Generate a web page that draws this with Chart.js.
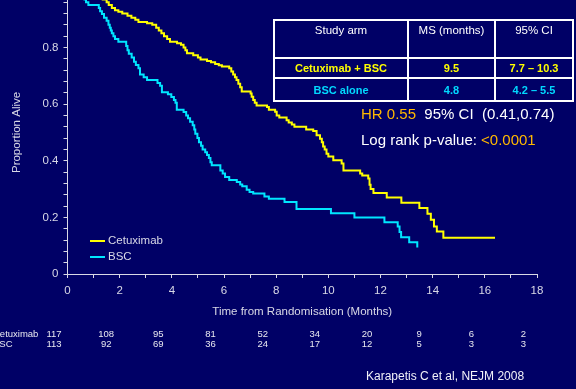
<!DOCTYPE html>
<html>
<head>
<meta charset="utf-8">
<script src="https://cdn.jsdelivr.net/npm/chart.js@4"></script>
<style>
  html, body { margin: 0; padding: 0; width: 576px; height: 389px; overflow: hidden; background: #000066; font-family: Arial, "Liberation Sans", sans-serif; }
  #wrap { position: absolute; left: 0; top: -21px; width: 576px; height: 410px; }
  #arms { position: absolute; left: 273px; top: 19px; width: 299px; border-collapse: collapse; table-layout: fixed; }
  #arms td, #arms th { border: 2px solid #fff; padding: 0; text-align: center; white-space: nowrap; }
  #arms th { height: 33px; vertical-align: top; padding-top: 3px; font-weight: normal; color: #fff; font-size: 11.5px; }
  #arms td { font-weight: bold; font-size: 11px; vertical-align: middle; }
  #arms tr.r1 td { height: 18px; color: #ffff00; }
  #arms tr.r2 td { height: 21px; color: #00d8ff; }
  .stat { position: absolute; left: 361px; font-size: 15px; color: #fff; white-space: pre; line-height: 17px; }
  .gold { color: #ffb800; }
  #cite { position: absolute; left: 366px; top: 369px; font-size: 12px; color: #f0f0f8; white-space: nowrap; }
</style>
</head>
<body>
<div id="wrap"><canvas id="km"></canvas></div>
<table id="arms"></table>
<div class="stat" style="top:105px"><span class="gold">HR 0.55</span>  95% CI  (0.41,0.74)</div>
<div class="stat" style="top:131px">Log rank p-value: <span class="gold">&lt;0.0001</span></div>
<div id="cite">Karapetis C et al, NEJM 2008</div>
<script>
// Kaplan-Meier curves: time (months) of each drop, survival after the drop
var cetuxTime = [0, 0.35, 0.7, 1.05, 1.35, 1.50, 1.58, 1.70, 1.82, 1.95, 2.10, 2.30, 2.45, 2.60, 2.72, 3.05, 3.25, 3.40, 3.50, 3.60, 3.70, 3.82, 3.93, 4.20, 4.35, 4.45, 4.52, 4.58, 4.82, 5.00, 5.10, 5.35, 5.50, 5.66, 5.80, 5.92, 6.20, 6.28, 6.35, 6.42, 6.48, 6.55, 6.62, 6.68, 7.02, 7.06, 7.12, 7.18, 7.25, 7.65, 7.72, 7.96, 8.02, 8.12, 8.40, 8.48, 8.60, 8.70, 9.15, 9.42, 9.55, 9.68, 9.75, 9.80, 9.86, 9.93, 10.0, 10.19, 10.51, 10.58, 11.22, 11.30, 11.53, 11.58, 11.62, 11.73, 12.24, 12.80, 13.49, 13.80, 13.93, 14.05, 14.16, 14.41, 16.39];
var cetuxSurv = [1.0, 0.991, 0.983, 0.976, 0.97, 0.96, 0.95, 0.94, 0.932, 0.926, 0.92, 0.912, 0.905, 0.898, 0.89, 0.886, 0.88, 0.87, 0.86, 0.85, 0.84, 0.83, 0.82, 0.815, 0.81, 0.80, 0.79, 0.78, 0.773, 0.765, 0.758, 0.752, 0.748, 0.742, 0.737, 0.733, 0.727, 0.715, 0.705, 0.695, 0.685, 0.672, 0.66, 0.645, 0.638, 0.626, 0.615, 0.605, 0.595, 0.59, 0.58, 0.573, 0.56, 0.553, 0.543, 0.535, 0.528, 0.52, 0.51, 0.505, 0.49, 0.478, 0.465, 0.45, 0.44, 0.425, 0.415, 0.402, 0.39, 0.366, 0.355, 0.348, 0.337, 0.315, 0.30, 0.286, 0.27, 0.252, 0.233, 0.213, 0.192, 0.168, 0.15, 0.128, 0.128];

var bscTime = [0, 0.2, 0.4, 0.55, 0.65, 0.71, 0.80, 1.20, 1.25, 1.32, 1.40, 1.50, 1.57, 1.62, 1.66, 1.70, 1.76, 1.82, 1.95, 2.25, 2.30, 2.35, 2.46, 2.55, 2.62, 2.72, 2.78, 2.92, 3.05, 3.45, 3.55, 3.62, 3.85, 3.98, 4.08, 4.14, 4.19, 4.45, 4.55, 4.62, 4.70, 4.80, 4.86, 4.90, 4.98, 5.04, 5.12, 5.18, 5.28, 5.35, 5.42, 5.48, 5.53, 5.86, 5.95, 6.04, 6.20, 6.49, 6.62, 6.70, 6.87, 6.98, 7.12, 7.55, 7.72, 8.32, 8.78, 10.10, 11.0, 12.15, 12.66, 12.73, 12.79, 13.10, 13.41];
var bscSurv = [1.0, 0.991, 0.983, 0.976, 0.97, 0.96, 0.95, 0.94, 0.928, 0.918, 0.905, 0.895, 0.88, 0.87, 0.86, 0.85, 0.84, 0.83, 0.82, 0.805, 0.79, 0.778, 0.765, 0.75, 0.738, 0.727, 0.705, 0.695, 0.685, 0.675, 0.665, 0.642, 0.635, 0.625, 0.615, 0.605, 0.58, 0.572, 0.56, 0.55, 0.538, 0.525, 0.51, 0.495, 0.48, 0.465, 0.453, 0.44, 0.43, 0.42, 0.41, 0.395, 0.384, 0.366, 0.355, 0.343, 0.332, 0.325, 0.316, 0.31, 0.298, 0.29, 0.284, 0.274, 0.266, 0.254, 0.23, 0.215, 0.2, 0.183, 0.168, 0.148, 0.13, 0.112, 0.094];

// numbers at risk
var atRiskTimes = [0, 2, 4, 6, 8, 10, 12, 14, 16, 18];
var atRiskCetux = [117, 108, 95, 81, 52, 34, 20, 9, 6, 2];
var atRiskBSC = [113, 92, 69, 36, 24, 17, 12, 5, 3, 3];

// summary table
var armNames = ['Cetuximab + BSC', 'BSC alone'];
var medianMonths = ['9.5', '4.8'];
var medianCI = ['7.7 \u2013 10.3', '4.2 \u2013 5.5'];
var tableHead = ['Study arm', 'MS (months)', '95% CI'];
var legendLabels = ['Cetuximab', 'BSC'];

var FONT = 'Arial, "Liberation Sans", sans-serif';
var AXIS = '#d8d8e6';
var YELLOW = '#ffff00';
var CYAN = '#00e6ff';

// build the table
var table = document.getElementById('arms');
var html = '<colgroup><col style="width:134px"><col style="width:87px"><col style="width:78px"></colgroup>';
html += '<tr>' + tableHead.map(function(h) { return '<th>' + h + '</th>'; }).join('') + '</tr>';
armNames.forEach(function(name, i) {
    html += '<tr class="r' + (i + 1) + '"><td>' + name + '</td><td>' + medianMonths[i] + '</td><td>' + medianCI[i] + '</td></tr>';
});
table.innerHTML = html;

function toPoints(t, s) {
    return t.map(function(v, i) { return { x: v, y: s[i] }; });
}

// legend + numbers at risk drawn on the canvas
var extras = {
    id: 'extras',
    afterDraw: function(chart) {
        var ctx = chart.ctx;
        var xs = chart.scales.x;
        var base = chart.chartArea.bottom;
        ctx.save();

        // legend
        ctx.font = '11.5px ' + FONT;
        ctx.textBaseline = 'middle';
        ctx.textAlign = 'left';
        chart.data.datasets.forEach(function(ds, i) {
            var y = base - 33 + i * 16;
            ctx.strokeStyle = ds.borderColor;
            ctx.lineWidth = 2;
            ctx.beginPath();
            ctx.moveTo(90, y);
            ctx.lineTo(105, y);
            ctx.stroke();
            ctx.fillStyle = AXIS;
            ctx.fillText(legendLabels[i], 108, y);
        });

        // numbers at risk
        ctx.font = '9.5px ' + FONT;
        ctx.fillStyle = '#e8e8f0';
        ctx.fillText(legendLabels[0], -7, base + 60);
        ctx.fillText(legendLabels[1], -7, base + 70);
        ctx.textAlign = 'center';
        atRiskTimes.forEach(function(t, i) {
            var x = xs.getPixelForValue(t) - 13.5;
            ctx.fillText(String(atRiskCetux[i]), x, base + 60);
            ctx.fillText(String(atRiskBSC[i]), x, base + 70);
        });
        ctx.restore();
    }
};

Chart.defaults.font.family = FONT;

var ctx = document.getElementById('km').getContext('2d');
var kmChart = new Chart(ctx, {
    type: 'line',
    data: {
        datasets: [{
            label: 'Cetuximab',
            data: toPoints(cetuxTime, cetuxSurv),
            borderColor: YELLOW,
            borderWidth: 2,
            pointRadius: 0,
            stepped: true,
            fill: false
        }, {
            label: 'BSC',
            data: toPoints(bscTime, bscSurv),
            borderColor: CYAN,
            borderWidth: 2,
            pointRadius: 0,
            stepped: true,
            fill: false
        }]
    },
    options: {
        responsive: true,
        maintainAspectRatio: false,
        animation: false,
        layout: { padding: { left: 0, right: 39, top: 0, bottom: 66 } },
        plugins: {
            legend: { display: false },
            tooltip: { enabled: false }
        },
        scales: {
            x: {
                type: 'linear',
                min: 0,
                max: 18,
                afterFit: function(scale) { scale.height = 49; },
                border: { display: true, color: AXIS, width: 1 },
                grid: { drawOnChartArea: false, drawTicks: true, tickLength: 4, color: AXIS },
                ticks: {
                    stepSize: 1,
                    autoSkip: false,
                    maxRotation: 0,
                    padding: 6,
                    color: AXIS,
                    font: { size: 11.5 },
                    callback: function(v) { return Math.round(v) % 2 === 0 ? String(Math.round(v)) : ''; }
                },
                title: {
                    display: true,
                    text: 'Time from Randomisation (Months)',
                    color: AXIS,
                    font: { size: 11.5 },
                    padding: { top: 4, bottom: 4 }
                }
            },
            y: {
                min: 0,
                max: 1,
                afterFit: function(scale) { scale.width = 67.5; },
                border: { display: true, color: AXIS, width: 1 },
                grid: { drawOnChartArea: false, drawTicks: true, tickLength: 4, color: AXIS },
                ticks: {
                    stepSize: 0.04,
                    autoSkip: false,
                    padding: 5,
                    color: AXIS,
                    font: { size: 11.5 },
                    callback: function(v) {
                        var r = Math.round(v * 100);
                        if (r % 20 !== 0) return '';
                        return r === 0 ? '0' : String(r / 100);
                    }
                },
                title: {
                    display: true,
                    text: 'Proportion Alive',
                    color: AXIS,
                    font: { size: 11.5 },
                    padding: { top: 10, bottom: 4 }
                }
            }
        }
    },
    plugins: [extras]
});
</script>
</body>
</html>
